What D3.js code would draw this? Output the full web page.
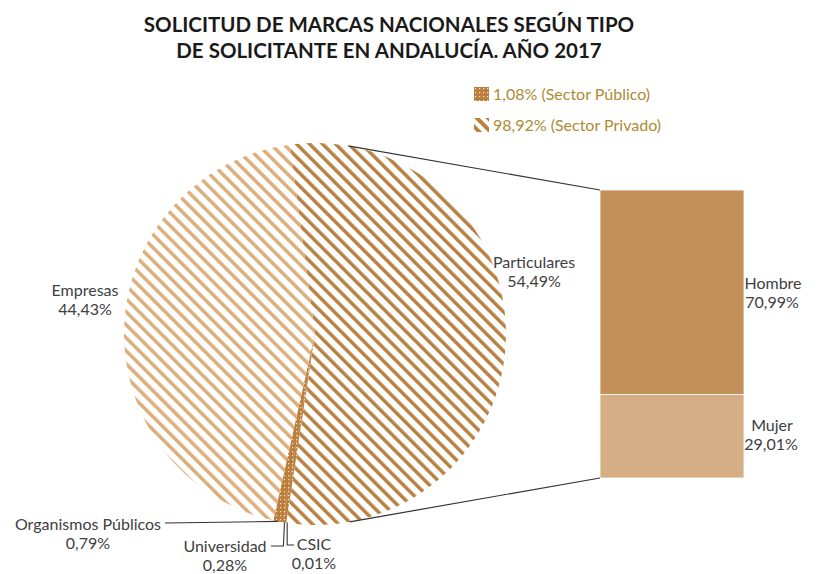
<!DOCTYPE html>
<html>
<head>
<meta charset="utf-8">
<script src="https://cdn.jsdelivr.net/npm/d3@7"></script>
<style>
  html, body { margin: 0; padding: 0; background: #fff; }
  svg { display: block; }
  text { font-family: Lato, "Open Sans", sans-serif; }
</style>
</head>
<body>
<svg id="chart" width="820" height="574"></svg>
<script>
// ---------- DATA ----------
const titleLines = ["SOLICITUD DE MARCAS NACIONALES SEGÚN TIPO", "DE SOLICITANTE EN ANDALUCÍA. AÑO 2017"];
const pieCategories = ["Particulares", "CSIC", "Universidad", "Organismos Públicos", "Empresas"];
const pieValues = [54.49, 0.01, 0.28, 0.79, 44.43];
const pieLabels = ["54,49%", "0,01%", "0,28%", "0,79%", "44,43%"];
const pieSector = ["privado", "publico", "publico", "publico", "privado"];
const barCategories = ["Hombre", "Mujer"];
const barValues = [70.99, 29.01];
const barLabels = ["70,99%", "29,01%"];
const legendKeys = ["publico", "privado"];
const legendLabels = ["1,08% (Sector Público)", "98,92% (Sector Privado)"];

// ---------- LAYOUT ----------
const W = 820, H = 574;
const cx = 315, cy = 334, R = 191;
const startDeg = -7.5;
const barX = 600, barW = 144, barTop = 190, barBottom = 478;
const connTopDeg = 10, connBottomDeg = 169.5;
const labelColor = "#404040";
const fs = 16;
const lineGap = 19;

const svg = d3.select("#chart");
const defs = svg.append("defs");

function stripePattern(id, color, period, thick) {
  const p = defs.append("pattern").attr("id", id)
    .attr("patternUnits", "userSpaceOnUse")
    .attr("width", period).attr("height", 20)
    .attr("patternTransform", "rotate(-45)");
  p.append("rect").attr("x", 0).attr("y", 0).attr("width", thick).attr("height", 20).attr("fill", color);
}
stripePattern("stripeDark", "#b98243", 9.2, 3.5);
stripePattern("stripeLight", "#dcae7c", 9.2, 3.5);
stripePattern("stripeLegend", "#b98243", 8, 4);

const dots = defs.append("pattern").attr("id", "dots")
  .attr("patternUnits", "userSpaceOnUse").attr("width", 4).attr("height", 4);
dots.append("rect").attr("width", 4).attr("height", 4).attr("fill", "#bd7d3b");
dots.append("rect").attr("x", 1).attr("y", 1).attr("width", 1.2).attr("height", 1.2).attr("fill", "#f6e6d2");

// ---------- TITLE ----------
svg.append("g").selectAll("text").data(titleLines).join("text")
  .attr("x", 389).attr("y", (d, i) => 32 + i * 26)
  .attr("text-anchor", "middle")
  .attr("font-size", 20.5).attr("font-weight", "bold").attr("fill", "#1a1a1a")
  .text(d => d);

// ---------- LEGEND ----------
const lg = svg.append("g").selectAll("g").data(legendKeys).join("g")
  .attr("transform", (d, i) => `translate(474, ${87 + i * 31})`);
lg.append("rect").attr("width", 15).attr("height", 14)
  .attr("fill", d => d === "publico" ? "url(#dots)" : "url(#stripeLegend)");
lg.append("text").attr("x", 19).attr("y", 13)
  .attr("font-size", 16).attr("fill", "#b08a33")
  .text((d, i) => legendLabels[i]);

// ---------- PIE ----------
const pieData = pieCategories.map((c, i) => ({ cat: c, value: pieValues[i], label: pieLabels[i], sector: pieSector[i] }));
const pie = d3.pie().sort(null).value(d => d.value)
  .startAngle(startDeg * Math.PI / 180)
  .endAngle(startDeg * Math.PI / 180 + 2 * Math.PI);
const arc = d3.arc().innerRadius(0).outerRadius(R);
const arcs = pie(pieData);

const fillFor = d => d.data.sector === "publico" ? "url(#dots)"
  : (d.data.cat === "Particulares" ? "url(#stripeDark)" : "url(#stripeLight)");

svg.append("g").attr("transform", `translate(${cx},${cy})`)
  .selectAll("path").data(arcs).join("path")
  .attr("d", arc).attr("fill", fillFor);

// ---------- BAR ----------
const yBar = d3.scaleLinear().domain([0, 100]).range([barTop, barBottom]);
let acc = 0;
const barData = barCategories.map((c, i) => {
  const o = { cat: c, value: barValues[i], label: barLabels[i], y0: acc, y1: acc + barValues[i] };
  acc += barValues[i];
  return o;
});
const barColors = { "Hombre": "#c4905a", "Mujer": "#d5ae86" };
svg.append("g").selectAll("rect").data(barData).join("rect")
  .attr("x", barX).attr("width", barW)
  .attr("y", d => yBar(d.y0)).attr("height", d => yBar(d.y1) - yBar(d.y0))
  .attr("fill", d => barColors[d.cat])
  .attr("stroke", "#fff").attr("stroke-width", 0.8);

// bar labels
const barLabelPos = { "Hombre": { x: 773, y: 289 }, "Mujer": { x: 772, y: 431 } };
const bl = svg.append("g").selectAll("g").data(barData).join("g");
bl.append("text").attr("x", d => barLabelPos[d.cat].x)
  .attr("y", d => barLabelPos[d.cat].y)
  .attr("text-anchor", "middle").attr("font-size", fs).attr("fill", labelColor)
  .text(d => d.cat);
bl.append("text").attr("x", d => barLabelPos[d.cat].x - 1)
  .attr("y", d => barLabelPos[d.cat].y + lineGap)
  .attr("text-anchor", "middle").attr("font-size", fs).attr("fill", labelColor)
  .text(d => d.label);

// ---------- CONNECTORS ----------
function onCircle(deg) {
  const a = deg * Math.PI / 180;
  return [cx + R * Math.sin(a), cy - R * Math.cos(a)];
}
const pTop = onCircle(connTopDeg), pBot = onCircle(connBottomDeg);
svg.append("g").attr("stroke", "#333").attr("stroke-width", 1.2).attr("fill", "none")
  .selectAll("line").data([[pTop, [barX, yBar(0)]], [pBot, [barX, yBar(100)]]]).join("line")
  .attr("x1", d => d[0][0]).attr("y1", d => d[0][1])
  .attr("x2", d => d[1][0]).attr("y2", d => d[1][1]);

// ---------- PIE LABELS ----------
const pieLabelPos = {
  "Particulares": { x: 534, y: 268 },
  "Empresas": { x: 85, y: 296 },
  "Organismos Públicos": { x: 88, y: 530 },
  "Universidad": { x: 225, y: 552 },
  "CSIC": { x: 314, y: 550 }
};
const plg = svg.append("g").selectAll("g").data(arcs).join("g");
plg.append("text")
  .attr("x", d => pieLabelPos[d.data.cat].x).attr("y", d => pieLabelPos[d.data.cat].y)
  .attr("text-anchor", "middle").attr("font-size", fs).attr("fill", labelColor)
  .text(d => d.data.cat);
plg.append("text")
  .attr("x", d => pieLabelPos[d.data.cat].x).attr("y", d => pieLabelPos[d.data.cat].y + lineGap)
  .attr("text-anchor", "middle").attr("font-size", fs).attr("fill", labelColor)
  .text(d => d.data.label);

// leader lines for the small public slices
function edgePoint(d) {
  const a = (d.startAngle + d.endAngle) / 2;
  return [cx + R * Math.sin(a), cy - R * Math.cos(a)];
}
const leaders = {
  "Organismos Públicos": d => { const [px, py] = edgePoint(d); return `M165,523 L${px},${py}`; },
  "Universidad": d => { const [px, py] = edgePoint(d); return `M271,546 L${px - 1},546 L${px},${py}`; },
  "CSIC": d => { const [px, py] = edgePoint(d); return `M${px + 1},${py} L${px + 1},545 L294,545`; }
};
svg.append("g").attr("fill", "none").attr("stroke", "#333").attr("stroke-width", 1.1)
  .selectAll("path").data(arcs.filter(d => leaders[d.data.cat])).join("path")
  .attr("d", d => leaders[d.data.cat](d));
</script>
</body>
</html>
